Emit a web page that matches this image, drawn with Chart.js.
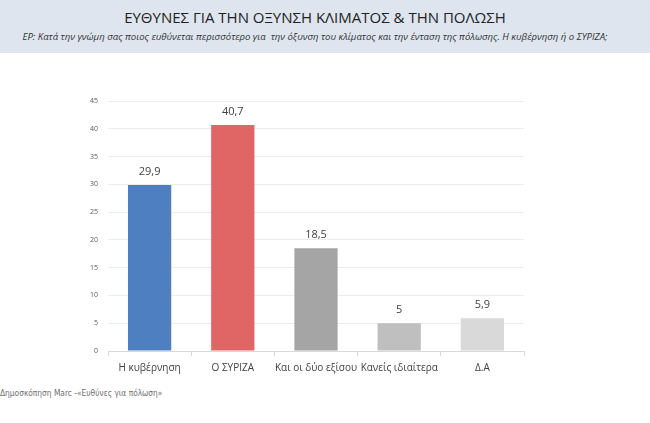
<!DOCTYPE html>
<html>
<head>
<meta charset="utf-8">
<script src="https://cdn.jsdelivr.net/npm/chart.js@4"></script>
<style>
  html, body { margin: 0; padding: 0; background: #fff; width: 650px; height: 423px; overflow: hidden; }
  #head { position: absolute; left: 0; top: 0; width: 650px; height: 53px; background: #dfe5ee; }
  #title { position: absolute; left: 0; width: 630px; top: 7px; text-align: center;
    font-family: "Open Sans", "DejaVu Sans", sans-serif; font-size: 15px; color: #222; }
  #sub { position: absolute; left: 0; width: 630px; top: 30px; text-align: center;
    font-family: "Open Sans", sans-serif; font-style: italic; font-size: 9.6px; color: #333; }
  #box { position: absolute; left: 80px; top: 87px; width: 460px; height: 293px; }
  #note { position: absolute; left: 0; top: 388px; font-family: "Liberation Sans Narrow", "DejaVu Sans Condensed", sans-serif;
    font-size: 8.3px; color: #707070; }
</style>
</head>
<body>
<div id="head">
  <div id="title">ΕΥΘΥΝΕΣ ΓΙΑ ΤΗΝ ΟΞΥΝΣΗ ΚΛΙΜΑΤΟΣ &amp; ΤΗΝ ΠΟΛΩΣΗ</div>
  <div id="sub">ΕΡ: Κατά την γνώμη σας ποιος ευθύνεται περισσότερο για &nbsp;την όξυνση του κλίματος και την ένταση της πόλωσης. Η κυβέρνηση ή ο ΣΥΡΙΖΑ;</div>
</div>
<div id="box"><canvas id="c"></canvas></div>
<div id="note">Δημοσκόπηση Marc -«Ευθύνες για πόλωση»</div>
<script>
const labels = ["Η κυβέρνηση", "Ο ΣΥΡΙΖΑ", "Και οι δύο εξίσου", "Κανείς ιδιαίτερα", "Δ.Α"];
const values = [29.9, 40.7, 18.5, 5, 5.9];
const colors = ["#4e7fc0", "#e06666", "#a5a5a5", "#bfbfbf", "#d9d9d9"];
const yTicks = [0, 5, 10, 15, 20, 25, 30, 35, 40, 45];

const valueLabels = {
  id: "valueLabels",
  afterDatasetsDraw(chart) {
    const g = chart.ctx;
    const meta = chart.getDatasetMeta(0);
    g.save();
    g.font = "11px 'Open Sans', sans-serif";
    g.fillStyle = "#404040";
    g.textAlign = "center";
    g.textBaseline = "bottom";
    meta.data.forEach((bar, i) => {
      g.fillText(String(values[i]).replace(".", ","), bar.x, bar.y - 8);
    });
    g.restore();
  }
};

new Chart(document.getElementById("c"), {
  type: "bar",
  data: {
    labels,
    datasets: [{ data: values, backgroundColor: colors, barPercentage: 0.52, categoryPercentage: 1 }]
  },
  options: {
    responsive: true, maintainAspectRatio: false, animation: false,
    layout: { padding: { top: 8, right: 16, left: 0, bottom: 0 } },
    plugins: { legend: { display: false }, tooltip: { enabled: false } },
    scales: {
      x: {
        grid: { offset: true, drawOnChartArea: false, drawTicks: true, tickLength: 5, color: "#d9d9d9" },
        border: { color: "#d9d9d9" },
        ticks: { color: "#404040", font: { family: "'Open Sans', sans-serif", size: 10 }, padding: 6,
          maxRotation: 0, autoSkip: false }
      },
      y: {
        min: 0, max: 45,
        afterBuildTicks: (ax) => { ax.ticks = yTicks.map((v) => ({ value: v })); },
        grid: { color: "#ececec", drawTicks: false },
        border: { display: false },
        ticks: { color: "#595959", font: { family: "'Open Sans', sans-serif", size: 7 }, padding: 10 }
      }
    }
  },
  plugins: [valueLabels]
});
</script>
</body>
</html>
